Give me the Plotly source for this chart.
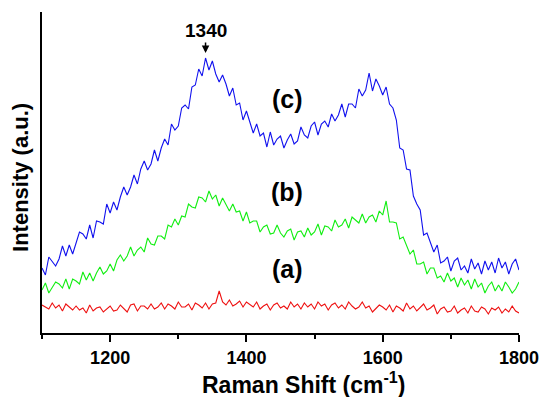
import plotly.graph_objects as go

# Raman shift grid (cm^-1)
shift = list(range(1100, 1801, 5))

# (c) blue
intensity_c = [
    63, 56, 74, 70, 65, 72, 85, 75, 86, 77, 88, 99, 97, 92, 106, 93, 110, 109, 107, 127,
    118, 129, 121, 134, 144, 136, 144, 156, 147, 162, 170, 161, 167, 181, 170, 183, 192, 186, 207, 201,
    205, 223, 226, 222, 244, 246, 262, 255, 273, 261, 270, 257, 249, 256, 247, 235, 243, 226, 228, 211,
    220, 209, 198, 207, 195, 198, 184, 199, 186, 192, 195, 183, 191, 197, 187, 190, 204, 196, 193, 205,
    209, 196, 207, 210, 204, 217, 210, 216, 227, 214, 227, 227, 223, 242, 235, 241, 258, 240, 252, 245,
    236, 244, 227, 223, 211, 183, 181, 162, 161, 135, 127, 121, 96, 98, 89, 79, 86, 68, 70, 74,
    60, 70, 73, 61, 65, 58, 72, 62, 68, 57, 70, 61, 69, 58, 73, 63, 69, 57, 67, 72,
    61,
]

# (b) green
intensity_b = [
    41, 48, 38, 44, 49, 47, 43, 52, 42, 52, 50, 47, 59, 51, 58, 50, 58, 64, 57, 60,
    67, 60, 71, 76, 70, 75, 84, 75, 81, 84, 79, 93, 87, 86, 95, 95, 92, 106, 104, 112,
    106, 115, 114, 127, 124, 123, 134, 133, 129, 140, 132, 136, 125, 133, 127, 120, 127, 119, 120, 110,
    119, 108, 110, 110, 99, 104, 106, 97, 98, 106, 98, 94, 100, 102, 91, 99, 100, 94, 103, 96,
    99, 107, 96, 105, 104, 100, 111, 104, 106, 112, 103, 114, 111, 108, 117, 108, 114, 116, 109, 120,
    116, 130, 109, 109, 108, 92, 94, 86, 77, 81, 67, 67, 69, 57, 63, 63, 53, 55, 49, 58,
    50, 53, 44, 53, 46, 51, 42, 52, 44, 48, 38, 45, 49, 40, 46, 40, 49, 44, 38, 42,
    49,
]

# (a) red
intensity_a = [
    26, 24, 22, 28, 23, 26, 20, 27, 24, 21, 25, 21, 23, 18, 26, 20, 23, 24, 19, 22,
    25, 20, 21, 26, 22, 19, 26, 27, 20, 25, 25, 22, 27, 22, 24, 28, 22, 27, 25, 22,
    29, 24, 24, 27, 21, 28, 26, 23, 28, 22, 27, 28, 40, 29, 26, 31, 25, 27, 30, 24,
    29, 26, 24, 29, 22, 25, 27, 21, 26, 28, 23, 25, 22, 29, 24, 27, 22, 28, 24, 27,
    22, 29, 25, 27, 21, 26, 28, 23, 26, 22, 29, 25, 22, 24, 29, 23, 25, 19, 23, 26,
    24, 21, 26, 19, 25, 23, 20, 28, 22, 25, 20, 24, 27, 21, 23, 26, 17, 22, 24, 19,
    20, 25, 18, 21, 23, 18, 25, 20, 19, 24, 22, 17, 23, 21, 24, 18, 22, 19, 25, 20,
    18,
]

major_ticks = [1200, 1400, 1600, 1800]
minor_ticks = [1100, 1300, 1500, 1700]
curve_labels = ["(a)", "(b)", "(c)"]

fig = go.Figure()
fig.add_trace(go.Scatter(x=shift, y=intensity_a, mode="lines",
                         line=dict(color="#ee1111", width=1.1), showlegend=False))
fig.add_trace(go.Scatter(x=shift, y=intensity_b, mode="lines",
                         line=dict(color="#11ee11", width=1.1), showlegend=False))
fig.add_trace(go.Scatter(x=shift, y=intensity_c, mode="lines",
                         line=dict(color="#1111ee", width=1.1), showlegend=False))

fam = "Liberation Sans, Arial, Helvetica, sans-serif"
lab_y = [62, 139, 232]
for lab, yy in zip(curve_labels, lab_y):
    fig.add_annotation(x=1460, y=yy, text="<b>%s</b>" % lab, showarrow=False,
                       font=dict(size=25, color="black", family=fam))

fig.add_annotation(x=1340, y=278, ax=0, ay=-12, text="", showarrow=True,
                   arrowhead=2, arrowsize=1, arrowwidth=1.5, arrowcolor="black")
fig.add_annotation(x=1340, y=301, text="<b>1340</b>", showarrow=False,
                   font=dict(size=19, color="black", family=fam))

# axis titles
fig.add_annotation(xref="paper", yref="paper", x=0.549, y=-0.156,
                   xanchor="center", yanchor="middle", showarrow=False,
                   text="<b>Raman Shift (cm<sup>-1</sup>)</b>",
                   font=dict(size=23, color="black", family=fam))
fig.add_annotation(xref="paper", yref="paper", x=-0.044, y=0.483,
                   xanchor="center", yanchor="middle", showarrow=False, textangle=-90,
                   text="<b>Intensity (a.u.)</b>",
                   font=dict(size=22, color="black", family=fam))

fig.update_layout(
    width=542, height=397,
    margin=dict(l=42, r=23, t=12, b=64),
    paper_bgcolor="white", plot_bgcolor="white",
    font=dict(family=fam, color="black"),
)
fig.update_xaxes(
    range=[1100, 1800], tickmode="array", tickvals=major_ticks,
    ticktext=["<b>%d</b>" % t for t in major_ticks],
    tickfont=dict(size=18), ticks="outside", ticklen=7, tickwidth=2, tickcolor="black",
    minor=dict(tickmode="array", tickvals=minor_ticks, ticks="outside", ticklen=4,
               tickwidth=2, tickcolor="black"),
    showline=True, linewidth=2, linecolor="black", showgrid=False, zeroline=False,
    automargin=False,
)
fig.update_yaxes(
    range=[-2, 319], showticklabels=False, ticks="", showline=True, linewidth=2,
    linecolor="black", showgrid=False, zeroline=False, automargin=False,
)

fig.write_html("out.html", config={"displayModeBar": False},
               post_script="document.body.style.margin='0';document.body.style.overflow='hidden';")
